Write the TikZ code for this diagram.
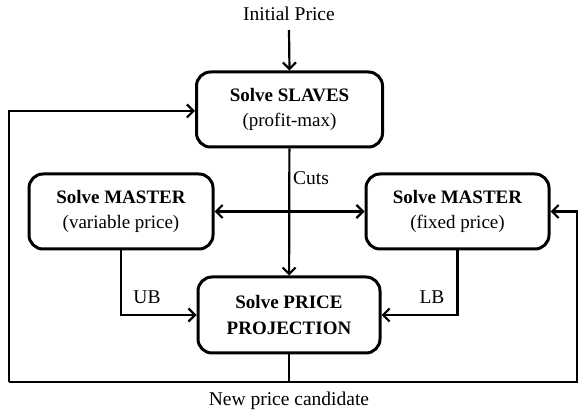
\documentclass[tikz,border=0pt]{standalone}
\usepackage{fontspec}
\setmainfont{Liberation Serif}
\usetikzlibrary{arrows.meta}
\begin{document}
\begin{tikzpicture}[x=1pt,y=-1pt,
  box/.style={draw,line width=3pt,rounded corners=14pt,align=center,font=\fontsize{19}{25.5}\selectfont,inner sep=0pt},
  conn/.style={line width=2.2pt},
  tip/.tip={Straight Barb[length=6.5pt,width=13pt,line width=2.2pt]},
  arr/.style={conn,-tip},
  arrs/.style={conn,tip-tip},
  lbl/.style={font=\fontsize{19.5}{22}\selectfont,inner sep=0pt}]
\useasboundingbox (0,0) rectangle (579,414);
\node[box,minimum width=186pt,minimum height=75pt] (slaves) at (289.5,109.5) {\textbf{Solve SLAVES}\\(profit-max)};
\node[box,minimum width=184pt,minimum height=75pt] (mL) at (121,211.5) {\textbf{Solve MASTER}\\(variable price)};
\node[box,minimum width=183pt,minimum height=75pt] (mR) at (457.5,211.5) {\textbf{Solve MASTER}\\(fixed price)};
\node[box,minimum width=182pt,minimum height=76pt] (proj) at (289,315) {\textbf{Solve PRICE}\\\textbf{PROJECTION}};
\node[lbl] (init) at (289,14) {Initial Price};
\node[lbl] (newp) at (289,401) {New price candidate};
\node[lbl,anchor=west] (cuts) at (293,178) {Cuts};
\node[lbl] (ub) at (147,297) {UB};
\node[lbl] (lb) at (432,297) {LB};
\coordinate (bl) at (9,382);
\coordinate (br) at (577,382);
\draw[arr] (289,30) -- (slaves.north);
\draw[arr] (slaves) -- (proj);
\draw[arrs] (mL) -- (mR);
\draw[arr] (mL.south) |- (proj.west);
\draw[arr] (mR.south) |- (proj.east);
\draw[conn] (proj.south) -- (proj.south |- bl) -- (bl);
\draw[arr] (bl) |- ([yshift=-1.5pt]slaves.west);
\draw[arr] (proj.south |- br) -- (br) |- (mR.east);
\end{tikzpicture}
\end{document}
